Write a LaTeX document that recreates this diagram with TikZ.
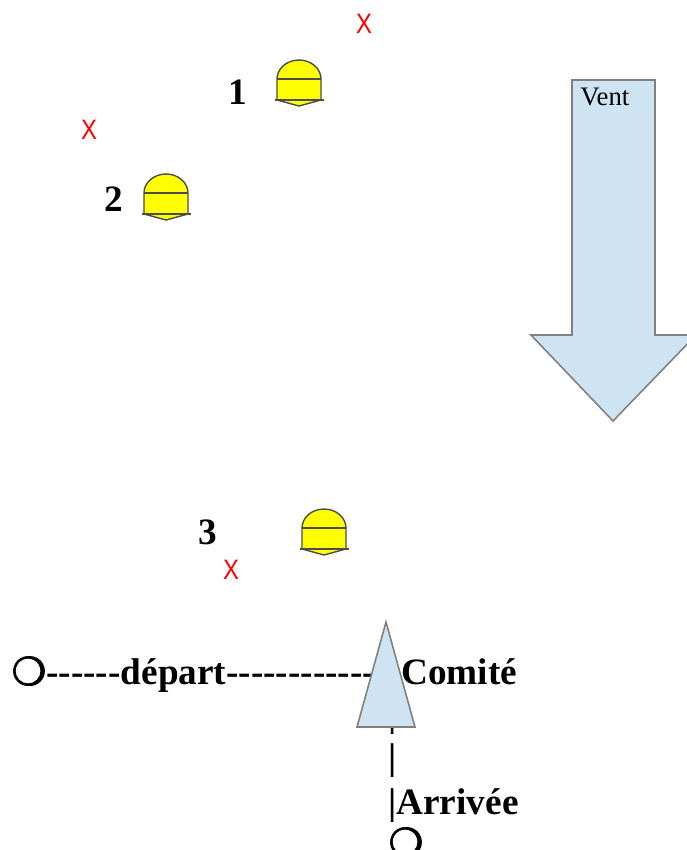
\documentclass[tikz,border=0pt]{standalone}
\usepackage{fontspec}
\newfontfamily\timesfont{Liberation Serif}
\newfontfamily\arialfont{Liberation Sans}
\newfontfamily\dejavufont[FakeBold=2.5]{DejaVu Sans}
\definecolor{ventblue}{HTML}{CFE4F3}
\definecolor{buoyyellow}{HTML}{FFFF00}
\tikzset{
    bigtext/.style={anchor=base west,inner sep=0pt,font=\timesfont\bfseries\fontsize{21.2}{24}\selectfont},
    ventshape/.style={draw=gray,fill=ventblue,line width=0.9pt,line join=miter},
    marktext/.style={anchor=center,inner sep=0pt,text=red,font=\arialfont\fontsize{16}{18}\selectfont},
    ringtext/.style={anchor=center,inner sep=0pt,font=\dejavufont\fontsize{22}{24}\selectfont},
    buoy/.pic={
        \draw[fill=buoyyellow,draw=black!70,line width=0.8pt] (-22,19) arc[start angle=180,end angle=360,x radius=22,y radius=19] -- (22,40) -- (0,46) -- (-22,40) -- cycle;
        \draw[black!70,line width=0.8pt] (-22,19) -- (22,19);
        \draw[black!70,line width=0.8pt] (-24.5,40) -- (24.5,40);
    }
}
\begin{document}
\begin{tikzpicture}[x=0.02cm,y=-0.02cm]
    \useasboundingbox (0,0) rectangle (687,850);
    % Wind arrow
    \begin{scope}
        \clip (0,0) rectangle (687,850);
        \draw[ventshape] (572,80) -- (655,80) -- (655,335) -- (696,335) -- (613,421) -- (531,335) -- (572,335) -- cycle;
    \end{scope}
    \node[anchor=base west,inner sep=0pt,font=\timesfont\fontsize{15.2}{17}\selectfont] (vent) at (580,105) {Vent};
    % Buoys and their numbers
    \pic at (299,60) {buoy};
    \pic at (166,174) {buoy};
    \pic at (324,509) {buoy};
    \node[bigtext] (numone) at (228,104) {1};
    \node[bigtext] (numtwo) at (104,211) {2};
    \node[bigtext] (numthree) at (198,544) {3};
    % Crosses
    \node[marktext] (markone) at (364,24) {\scalebox{0.85}[1]{X}};
    \node[marktext] (marktwo) at (89,130) {\scalebox{0.85}[1]{X}};
    \node[marktext] (markthree) at (231,570) {\scalebox{0.85}[1]{X}};
    % Start line, the committee boat drawn over it
    \node[ringtext] (ringstart) at (29,671) {❍};
    \node[bigtext] (depart) at (46,684) {------départ------------};
    \node[bigtext] (barone) at (388,726) {|};
    \draw[ventshape] (386,622) -- (415,727) -- (357,727) -- cycle;
    \node[bigtext] (comite) at (401,684) {Comité};
    % Finish line
    \node[bigtext] (bartwo) at (388,769) {|};
    \node[bigtext] (arrivee) at (388,814) {|Arrivée};
    \node[ringtext] (ringend) at (406,842) {❍};
\end{tikzpicture}
\end{document}
